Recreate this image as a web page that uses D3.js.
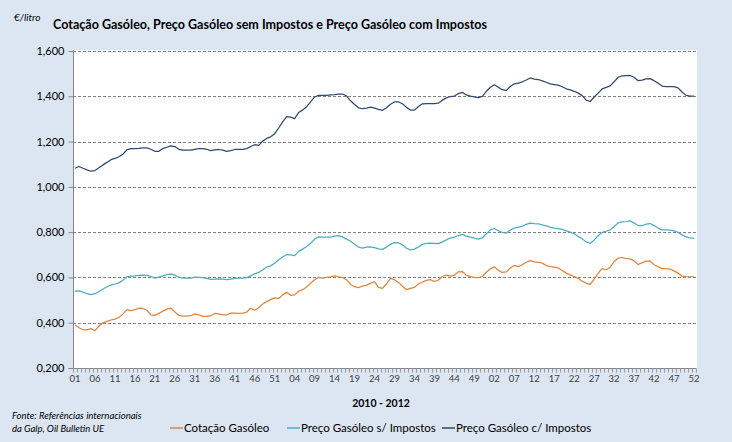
<!DOCTYPE html>
<html><head><meta charset="utf-8">
<script src="https://cdn.jsdelivr.net/npm/d3@7"></script>
<style>html,body{margin:0;padding:0;background:#dce6f2;}svg{display:block;}</style>
</head><body>
<svg id="chart" width="732" height="442"></svg>
<script>
// ---- DATA ----
const years = ["2010", "2011", "2012"];
const weeksPerYear = 52;
const yTicks = [0.2, 0.4, 0.6, 0.8, 1.0, 1.2, 1.4, 1.6];
const seriesNames = ["Cotação Gasóleo", "Preço Gasóleo s/ Impostos", "Preço Gasóleo c/ Impostos"];

const cotacao = [
0.390,0.378,0.369,0.368,0.374,0.365,0.385,0.399,0.406,0.412,
0.416,0.423,0.438,0.458,0.453,0.458,0.464,0.463,0.455,0.435,
0.432,0.441,0.451,0.460,0.464,0.448,0.432,0.429,0.429,0.431,
0.439,0.435,0.428,0.428,0.431,0.441,0.439,0.435,0.435,0.442,
0.442,0.441,0.442,0.447,0.464,0.455,0.466,0.483,0.493,0.502,
0.510,0.507,0.523,0.534,0.521,0.523,0.539,0.546,0.558,0.575,
0.590,0.600,0.597,0.600,0.603,0.607,0.603,0.600,0.590,0.569,
0.559,0.555,0.562,0.566,0.574,0.581,0.556,0.552,0.571,0.596,
0.590,0.578,0.561,0.546,0.552,0.556,0.571,0.580,0.587,0.590,
0.582,0.588,0.604,0.610,0.606,0.610,0.625,0.626,0.609,0.604,
0.600,0.599,0.604,0.623,0.638,0.647,0.631,0.622,0.625,0.642,
0.653,0.648,0.656,0.667,0.674,0.669,0.667,0.663,0.653,0.648,
0.645,0.642,0.631,0.619,0.611,0.604,0.596,0.583,0.575,0.569,
0.593,0.619,0.639,0.634,0.645,0.670,0.685,0.688,0.683,0.682,
0.673,0.657,0.664,0.672,0.673,0.656,0.647,0.639,0.639,0.637,
0.629,0.619,0.606,0.604,0.603,0.602];

const semImpostos = [
0.540,0.541,0.535,0.528,0.524,0.528,0.538,0.549,0.559,0.566,
0.571,0.576,0.588,0.603,0.606,0.607,0.609,0.610,0.609,0.604,
0.597,0.601,0.607,0.612,0.615,0.610,0.601,0.597,0.597,0.597,
0.601,0.600,0.599,0.596,0.591,0.593,0.594,0.593,0.590,0.593,
0.596,0.597,0.597,0.599,0.607,0.616,0.622,0.634,0.646,0.651,
0.663,0.678,0.690,0.701,0.700,0.696,0.715,0.725,0.737,0.751,
0.769,0.779,0.778,0.778,0.778,0.782,0.785,0.779,0.769,0.760,
0.747,0.734,0.729,0.734,0.735,0.732,0.726,0.724,0.734,0.747,
0.754,0.753,0.744,0.729,0.722,0.725,0.735,0.746,0.750,0.751,
0.750,0.749,0.757,0.766,0.774,0.778,0.785,0.790,0.782,0.778,
0.774,0.769,0.775,0.793,0.810,0.816,0.806,0.799,0.796,0.809,
0.818,0.822,0.826,0.834,0.840,0.838,0.837,0.832,0.828,0.822,
0.818,0.816,0.812,0.806,0.800,0.793,0.781,0.771,0.757,0.750,
0.766,0.784,0.799,0.804,0.810,0.825,0.841,0.845,0.847,0.850,
0.840,0.829,0.829,0.835,0.838,0.829,0.818,0.810,0.810,0.809,
0.806,0.799,0.788,0.779,0.775,0.773];

const comImpostos = [
1.082,1.090,1.082,1.075,1.069,1.072,1.084,1.097,1.108,1.120,
1.126,1.133,1.144,1.163,1.169,1.169,1.170,1.172,1.172,1.166,
1.157,1.157,1.169,1.175,1.181,1.178,1.166,1.162,1.162,1.162,
1.166,1.169,1.169,1.166,1.160,1.163,1.165,1.162,1.157,1.160,
1.165,1.166,1.166,1.169,1.178,1.186,1.183,1.202,1.214,1.221,
1.235,1.260,1.287,1.310,1.308,1.301,1.328,1.339,1.354,1.375,
1.397,1.404,1.404,1.404,1.406,1.407,1.410,1.410,1.401,1.380,
1.364,1.349,1.345,1.348,1.352,1.348,1.342,1.338,1.349,1.365,
1.375,1.375,1.367,1.351,1.339,1.339,1.355,1.367,1.368,1.368,
1.368,1.370,1.383,1.393,1.399,1.401,1.412,1.417,1.406,1.401,
1.397,1.394,1.400,1.422,1.440,1.451,1.440,1.429,1.426,1.443,
1.455,1.458,1.464,1.472,1.481,1.476,1.474,1.468,1.462,1.455,
1.452,1.449,1.442,1.433,1.428,1.422,1.414,1.403,1.383,1.377,
1.397,1.414,1.433,1.439,1.446,1.464,1.484,1.490,1.491,1.492,
1.484,1.469,1.471,1.477,1.478,1.469,1.458,1.445,1.443,1.443,
1.443,1.437,1.419,1.404,1.401,1.401];

// categories: week numbers 01..52 for each year
const categories = [];
years.forEach(y => { for (let w = 1; w <= weeksPerYear; w++) categories.push(y + "-" + String(w).padStart(2, "0")); });
const weekLabel = c => c.slice(5);

// ---- LAYOUT ----
const svg = d3.select("#chart");
const W = 732, H = 442;
const plot = {left: 73, right: 697, top: 50, bottom: 368};
const font = "Lato, 'Open Sans', 'Liberation Sans', sans-serif";
const colors = ["#e0843c", "#4bacc6", "#2e4a6e"];

svg.append("rect").attr("width", W).attr("height", H).attr("fill", "#dce6f2");
svg.append("rect").attr("x", plot.left).attr("y", plot.top)
  .attr("width", plot.right - plot.left).attr("height", plot.bottom - plot.top).attr("fill", "#ffffff");

const x = d3.scalePoint().domain(categories).range([plot.left, plot.right - 1]).padding(0.5);
const y = d3.scaleLinear().domain([0.2, 1.6]).range([plot.bottom, 51]);
const fmt = v => v.toFixed(3).replace(".", ",");

// gridlines
svg.append("g").selectAll("line").data(yTicks.filter(v => v > 0.2)).join("line")
  .attr("x1", plot.left).attr("x2", plot.right - 1)
  .attr("y1", d => Math.round(y(d)) + 0.5).attr("y2", d => Math.round(y(d)) + 0.5)
  .attr("stroke", "#808080").attr("stroke-width", 1).attr("stroke-dasharray", "3,2");

// y axis
const yAxis = d3.axisLeft(y).tickValues(yTicks).tickFormat(fmt).tickSize(5).tickPadding(4);
const gy = svg.append("g").attr("transform", `translate(${plot.left + 0.5},0)`).call(yAxis);
gy.select(".domain").attr("stroke", "#868686").attr("d", `M-5,${plot.bottom + 0.5}H0V${plot.top}`);
gy.selectAll(".tick line").attr("stroke", "#868686");
gy.selectAll(".tick text").attr("font-family", font).attr("font-size", 11).attr("fill", "#000");

// x axis
const step = x.step();
const gx = svg.append("g").attr("transform", `translate(0,${plot.bottom + 0.5})`);
gx.append("line").attr("x1", plot.left).attr("x2", plot.right - 1).attr("stroke", "#868686");
gx.selectAll("line.mt").data(d3.range(categories.length + 1)).join("line").attr("class", "mt")
  .attr("x1", i => Math.round(x(categories[0]) - step / 2 + i * step) + 0.5)
  .attr("x2", i => Math.round(x(categories[0]) - step / 2 + i * step) + 0.5)
  .attr("y1", 0).attr("y2", 4).attr("stroke", "#9a9a9a");
gx.selectAll("text").data(categories.filter((c, i) => i % 5 === 0)).join("text")
  .attr("x", d => x(d)).attr("y", 13).attr("text-anchor", "middle")
  .attr("font-family", font).attr("font-size", 9.5).attr("fill", "#404040").text(weekLabel);

// lines
const series = [cotacao, semImpostos, comImpostos];
const line = d3.line().x((d, i) => x(categories[i])).y(d => y(d));
svg.append("g").selectAll("path").data(series).join("path")
  .attr("d", line).attr("fill", "none").attr("stroke", (d, i) => colors[i])
  .attr("stroke-width", 1.25).attr("stroke-linejoin", "round");

// titles
svg.append("text").attr("x", 14).attr("y", 21).attr("font-family", font).attr("font-size", 10)
  .attr("font-style", "italic").attr("fill", "#000").text("€/litro");
svg.append("text").attr("x", 53).attr("y", 29).attr("font-family", font).attr("font-size", 12.5)
  .attr("font-weight", "bold").attr("fill", "#000")
  .attr("textLength", 434).attr("lengthAdjust", "spacingAndGlyphs")
  .text("Cotação Gasóleo, Preço Gasóleo sem Impostos e Preço Gasóleo com Impostos");
svg.append("text").attr("x", 381).attr("y", 407).attr("text-anchor", "middle").attr("font-family", font)
  .attr("font-size", 10.5).attr("font-weight", "bold").attr("fill", "#000").text(years[0] + " - " + years[years.length - 1]);

// source
svg.append("text").attr("x", 12).attr("y", 419).attr("font-family", font).attr("font-size", 9.5)
  .attr("font-style", "italic").attr("fill", "#000").text("Fonte: Referências internacionais");
svg.append("text").attr("x", 12).attr("y", 432).attr("font-family", font).attr("font-size", 9.5)
  .attr("font-style", "italic").attr("fill", "#000").text("da Galp, Oil Bulletin  UE");

// legend
const legendX = [170, 287, 442];
const lg = svg.append("g").selectAll("g").data(seriesNames).join("g")
  .attr("transform", (d, i) => `translate(${legendX[i]},432)`);
lg.append("line").attr("x1", 0).attr("x2", 13).attr("y1", -4).attr("y2", -4)
  .attr("stroke", (d, i) => colors[i]).attr("stroke-width", 1.5);
lg.append("text").attr("x", 14).attr("y", 0).attr("font-family", font).attr("font-size", 11.5)
  .attr("fill", "#000").text(d => d);
</script>
</body></html>
